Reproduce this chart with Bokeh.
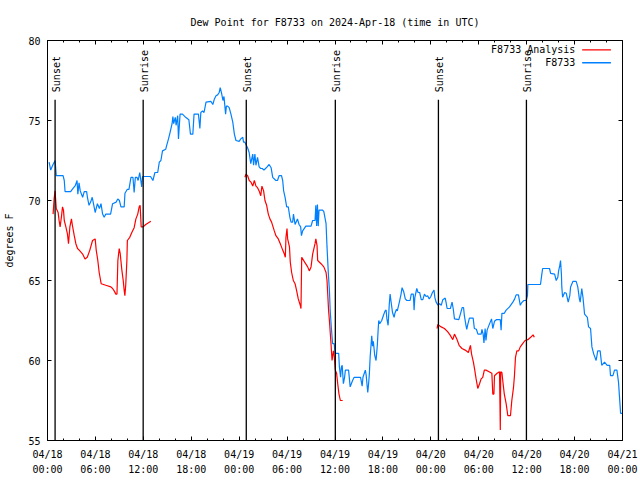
import math
from bokeh.plotting import figure
from bokeh.models import Range1d, LinearAxis, FixedTicker, CustomJSTickFormatter, Label, Arrow
from bokeh.core.properties import value
from bokeh.embed import file_html
from bokeh.resources import INLINE

FONT = "DejaVu Sans Mono"

# hours since 2024-04-18 00:00 UTC
obs_hours = [0.2,0.4,0.65,0.95,1.1,1.95,2.1,2.2,2.9,3.1,3.5,3.7,3.8,3.95,4.1,4.4,4.6,4.9,5.0,5.2,5.4,5.6,5.8,5.97,6.25,6.5,6.7,6.9,7.1,7.3,7.9,8.15,8.6,8.8,9.0,9.2,9.6,9.7,10.0,10.2,10.45,10.7,10.85,11.0,11.2,11.35,11.55,11.8,11.9,12.9,13.2,13.45,13.8,14.0,14.2,14.4,14.8,14.9,15.15,15.3,15.6,15.7,15.8,16.0,16.1,16.3,16.4,16.6,16.9,17.3,17.7,17.9,18.2,18.35,18.9,19.08,19.2,19.42,19.6,19.85,20.45,20.7,20.9,21.1,21.3,21.5,21.63,21.8,21.97,22.1,22.3,22.4,22.55,22.75,22.97,23.2,23.4,23.6,24.0,24.2,24.45,24.55,24.7,24.85,25.05,25.25,25.45,25.7,25.8,25.97,26.1,26.3,26.5,26.7,26.9,27.1,27.3,27.5,27.75,28.0,28.2,28.6,28.8,29.0,29.3,29.45,29.57,29.75,29.95,30.15,30.35,30.5,30.7,30.8,31.0,31.3,31.5,31.7,31.8,31.95,32.35,33.0,33.2,33.5,33.6,33.7,33.8,33.9,34.0,34.45,34.6,34.88,35.0,35.17,35.3,35.4,35.55,35.7,35.9,36.0,36.46,36.55,36.7,36.8,36.9,37.05,37.2,37.3,37.7,37.9,38.2,38.4,39.2,39.4,39.5,39.8,39.9,40.1,40.2,40.3,40.4,40.6,40.7,40.8,40.98,41.14,41.3,41.4,41.48,41.6,41.85,42.05,42.27,42.4,42.5,42.65,42.8,42.9,43.0,43.2,43.4,43.5,43.7,43.8,44.06,44.27,44.4,44.6,44.8,45.0,45.4,45.55,45.8,45.86,45.9,46.0,46.24,46.4,46.6,46.8,47.0,47.2,47.4,47.6,47.8,48.0,48.2,48.4,48.5,48.66,48.9,49.1,49.3,49.5,49.8,49.9,50.04,50.45,50.66,50.8,50.96,51.5,51.7,51.92,52.1,52.2,52.4,52.5,52.6,52.83,53.3,53.45,53.7,53.9,54.3,54.4,54.55,54.65,54.8,54.9,55.05,55.2,55.4,55.6,55.76,55.97,56.2,56.7,56.8,56.9,57.2,57.43,57.85,58.27,58.5,58.68,58.97,59.2,59.35,59.65,59.94,60.1,60.15,61.73,61.9,62.0,62.86,63.0,63.5,63.7,63.9,64.0,64.15,64.24,64.35,64.4,64.5,64.75,64.96,65.2,65.4,65.5,65.8,66.2,66.4,66.6,66.7,66.9,67.05,67.25,67.6,67.75,68.0,68.17,68.4,68.7,68.9,69.2,69.4,69.75,70.08,70.4,70.5,70.8,71.0,71.3,71.5,71.6,71.76,72.0]
obs_dewpt = [72.4,71.9,72.2,72.5,71.55,71.55,71.25,70.55,70.55,70.7,70.95,71.25,70.4,71.1,70.6,70.2,70.55,70.55,70.2,69.7,69.9,70.2,69.7,69.25,69.8,69.5,69.8,69.15,68.95,69.15,69.15,69.8,69.9,70.1,70.0,69.6,69.6,70.45,70.7,70.7,71.45,71.45,70.5,71.45,71.45,71.25,71.75,70.85,71.5,71.5,71.25,71.75,71.75,72.4,72.5,73.1,73.2,73.4,73.85,74.15,74.8,75.25,74.8,75.2,74.7,75.3,73.85,75.4,75.4,75.2,75.05,74.15,74.15,75.4,75.4,74.5,75.5,75.6,75.5,76.15,76.2,76.0,76.35,76.55,76.6,76.75,77.05,76.7,76.25,76.5,75.4,75.9,75.9,75.8,75.4,74.9,74.15,73.75,73.7,73.85,73.95,73.65,73.65,73.5,73.3,73.0,72.3,72.9,72.2,72.9,72.2,72.7,72.1,72.0,72.0,71.9,72.0,72.1,72.25,72.05,71.45,71.25,71.25,71.55,71.55,71.25,70.6,70.2,69.6,69.6,68.95,68.65,68.65,69.15,68.5,68.85,68.5,68.35,67.8,68.1,68.4,68.4,68.75,68.75,69.7,68.4,69.75,68.4,69.4,69.4,69.3,68.55,67.1,65.4,64.4,63.1,62.0,61.05,61.05,60.45,60.45,59.6,58.95,59.6,59.7,58.55,58.95,59.4,59.4,58.35,58.75,58.95,58.95,58.4,58.95,59.4,59.1,58.0,58.5,59.15,60.2,61.55,60.9,61.2,60.3,60.0,60.95,61.9,62.5,62.3,62.5,62.8,63.1,63.15,62.6,62.2,63.55,64.15,63.75,63.0,62.7,62.95,63.2,63.1,63.65,64.15,64.55,64.3,63.85,63.75,63.75,64.15,64.15,63.65,63.15,63.95,64.5,64.25,64.25,63.8,63.8,64.15,64.0,64.05,63.85,64.0,64.25,64.4,63.95,63.65,63.45,63.55,63.45,63.8,63.9,63.65,63.25,63.25,63.65,63.25,62.6,62.55,62.9,63.3,63.3,62.8,62.2,61.95,62.2,62.65,62.65,62.0,61.95,61.65,61.65,61.95,61.65,61.1,62.0,61.25,61.9,62.1,62.35,62.6,62.0,62.45,62.55,62.55,61.9,62.95,62.95,63.15,63.35,63.65,63.85,64.1,64.1,63.45,63.6,63.75,63.75,64.05,64.75,64.75,65.4,65.75,65.75,65.45,65.4,65.0,65.2,65.6,65.95,66.25,65.4,64.6,63.95,64.25,64.2,63.65,64.05,64.6,64.95,64.95,64.6,63.85,63.65,64.5,63.95,62.9,62.7,62.1,62.0,60.85,60.4,60.0,60.6,60.6,59.7,59.9,59.7,59.7,59.05,59.05,59.4,59.4,58.65,57.9,56.7,56.7]

ana1_hours = [0.7,0.83,0.95,1.0,1.1,1.33,1.45,1.58,1.75,1.88,2.0,2.1,2.3,2.5,2.63,2.8,3.0,3.1,3.35,3.55,3.76,3.97,4.4,4.7,4.98,5.3,5.64,5.97,6.1,6.3,6.47,6.72,7.3,7.93,8.15,8.35,8.56,8.7,8.81,8.98,9.1,9.3,9.48,9.6,9.69,9.8,9.94,10.0,10.3,10.56,10.85,11.07,11.3,11.48,11.6,11.73,11.98,12.3,12.6,12.94]
ana1_dewpt = [69.15,70.1,70.6,70.2,69.5,69.25,68.75,68.35,69.0,69.6,69.4,68.75,68.35,67.9,67.3,68.35,68.85,68.5,67.8,67.3,67.0,66.9,66.65,66.35,66.45,66.9,67.5,67.6,66.9,66.25,65.5,64.8,64.7,64.6,64.5,64.35,64.15,64.15,66.25,67.0,66.7,65.7,65.0,64.4,64.05,64.75,66.25,67.5,67.7,68.0,68.3,68.85,69.15,69.6,69.7,68.35,68.35,68.5,68.6,68.7]

ana2_hours = [24.72,24.85,25.06,25.26,25.47,25.7,25.9,26.1,26.3,26.5,26.7,26.85,27.06,27.23,27.44,27.65,27.85,28.06,28.4,28.6,28.9,29.15,29.3,29.45,29.66,29.78,29.86,29.99,30.07,30.3,30.4,30.57,30.78,31.0,31.2,31.4,31.65,31.74,31.83,32.2,32.58,32.78,33.0,33.2,33.5,33.6,33.75,33.83,34.25,34.6,34.88,35.0,35.09,35.2,35.3,35.5,35.63,35.8,35.9,36.04,36.2,36.34,36.5,36.67,36.96]
ana2_dewpt = [71.45,71.65,71.55,71.25,71.15,70.9,71.25,70.9,70.8,70.6,70.3,70.9,70.6,70.0,69.7,69.15,68.85,68.65,68.1,67.8,67.6,67.3,67.1,66.9,66.65,66.45,67.7,68.25,67.6,67.1,66.15,65.5,65.0,64.8,64.35,63.85,63.45,63.25,66.45,66.15,65.85,65.6,65.85,66.65,67.3,67.6,67.2,66.25,66.05,65.85,65.5,65.0,64.15,63.1,62.5,61.05,60.0,60.6,60.3,59.4,59.2,58.55,57.9,57.5,57.5]

ana3_hours = [48.78,48.87,49.3,49.7,50.1,50.4,50.75,50.96,51.25,51.54,51.9,52.3,52.7,52.96,53.1,53.33,53.5,53.67,53.88,54.1,54.3,54.5,54.7,54.9,55.3,55.64,55.76,55.9,55.97,56.3,56.6,56.7,56.75,56.9,57.05,57.2,57.43,57.64,57.97,58.14,58.35,58.47,58.6,58.77,59.0,59.2,59.5,59.8,60.15,60.5,60.8,60.96]
ana3_dewpt = [62.0,62.25,62.1,62.0,61.8,61.6,61.3,61.65,61.35,60.95,60.75,60.65,60.5,60.95,60.4,59.9,59.4,58.85,58.25,58.55,58.85,58.95,59.4,59.4,59.3,59.2,57.9,57.9,59.05,59.2,59.3,55.65,59.3,59.25,58.55,57.9,57.3,56.55,56.55,57.5,58.3,59.05,60.2,60.6,60.6,60.85,61.05,61.25,61.3,61.45,61.6,61.45]

event_hours = [0.95, 11.98, 24.89, 36.04, 48.95, 59.97]
event_names = ["Sunset", "Sunrise", "Sunset", "Sunrise", "Sunset", "Sunrise"]

x_major = [0, 6, 12, 18, 24, 30, 36, 42, 48, 54, 60, 66, 72]
x_minor = [h for h in range(0, 73, 2) if h % 6 != 0]
y_major = [55, 60, 65, 70, 75, 80]

RED = "#ff0000"
BLUE = "#0080ff"

p = figure(frame_width=575, frame_height=400,
           x_range=Range1d(0, 72), y_range=Range1d(55, 80),
           output_backend="svg", toolbar_location=None,
           min_border_left=47, min_border_right=17, min_border_top=40, min_border_bottom=38,
           background_fill_color="white", border_fill_color="white")
p.grid.visible = False
p.outline_line_color = "black"
p.outline_line_width = 1

p.title.text = "Dew Point for F8733 on 2024-Apr-18 (time in UTC)"
p.title.align = "center"
p.title.text_font = FONT
p.title.text_font_size = "10px"
p.title.text_font_style = "normal"
p.title.text_color = "black"
p.title.standoff = 26

fmt = CustomJSTickFormatter(code="""
const d = 18 + Math.floor(tick / 24);
const h = Math.round(tick % 24);
return "04/" + d + "\\n" + (h < 10 ? "0" : "") + h + ":00";
""")
blank = CustomJSTickFormatter(code="return '';")

xt = FixedTicker(ticks=x_major, minor_ticks=x_minor)
yt = FixedTicker(ticks=y_major, minor_ticks=[])

def style_axis(ax):
    ax.major_tick_in = 4
    ax.major_tick_out = 0
    ax.minor_tick_in = 2
    ax.minor_tick_out = 0
    ax.axis_line_color = "black"
    ax.major_tick_line_color = "black"
    ax.minor_tick_line_color = "black"
    ax.major_label_text_font = FONT
    ax.major_label_text_font_size = "10px"
    ax.major_label_text_color = "black"

xa = p.xaxis[0]
xa.ticker = xt
xa.formatter = fmt
style_axis(xa)
xa.major_label_standoff = 8
xa.major_label_text_line_height = 1.38

ya = p.yaxis[0]
ya.ticker = yt
style_axis(ya)
ya.major_label_standoff = 7
ya.axis_label = "degrees F"
ya.axis_label_text_font = FONT
ya.axis_label_text_font_size = "10px"
ya.axis_label_text_font_style = "normal"
ya.axis_label_text_color = "black"
ya.axis_label_standoff = 10

top_ax = LinearAxis(ticker=xt, formatter=blank)
style_axis(top_ax)
top_ax.major_label_standoff = 0
p.add_layout(top_ax, "above")

right_ax = LinearAxis(ticker=yt, formatter=blank)
style_axis(right_ax)
right_ax.major_label_standoff = 0
p.add_layout(right_ax, "right")

# observation and analysis lines
p.line(obs_hours, obs_dewpt, line_color=BLUE, line_width=1.2)
for hrs, vals in ((ana1_hours, ana1_dewpt), (ana2_hours, ana2_dewpt), (ana3_hours, ana3_dewpt)):
    p.line(hrs, vals, line_color=RED, line_width=1.2)

# sunset / sunrise markers
p.segment(x0=event_hours, y0=55, x1=event_hours, y1=76.3, line_color="black", line_width=1.3)
p.text(x=event_hours, y=[76.77] * len(event_hours), text=event_names, angle=math.pi / 2,
       text_align="left", text_baseline="middle", x_offset=1,
       text_font=value(FONT), text_font_size="10px", text_color="black")

# legend (text to the left of line sample, like the original)
legend_rows = [("F8733 Analysis", RED, 79.42), ("F8733", BLUE, 78.61)]
for label, col, yy in legend_rows:
    p.add_layout(Label(x=66.1, y=yy, text=label, text_align="right", text_baseline="middle",
                       text_font=FONT, text_font_size="10px", text_color="black"))
    p.add_layout(Arrow(end=None, x_start=66.95, y_start=yy, x_end=70.55, y_end=yy,
                       line_color=col, line_width=1.3))

open("out.html", "w").write(file_html(p, INLINE))
